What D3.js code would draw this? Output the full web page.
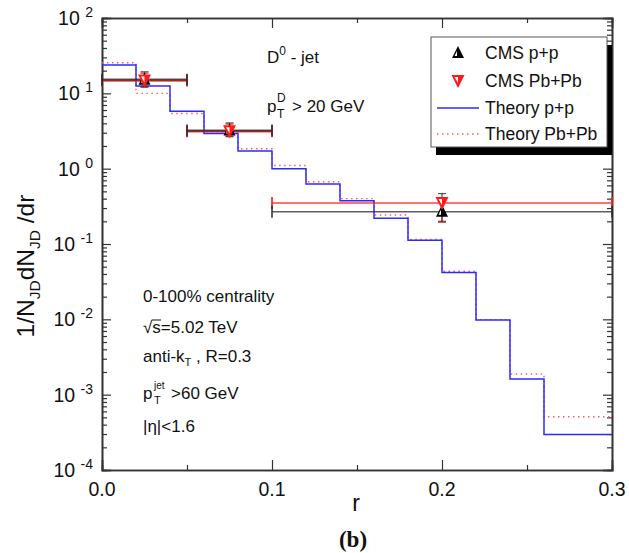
<!DOCTYPE html>
<html><head><meta charset="utf-8">
<script src="https://cdn.jsdelivr.net/npm/d3@7"></script>
<style>
body{margin:0;background:#fff}
text{font-family:"Liberation Sans",Arial,sans-serif;fill:#111}
</style>
</head><body>
<svg id="c" width="629" height="553"></svg>
<script>
// ---- data ----
const binEdges   = [0,0.02,0.04,0.06,0.08,0.10,0.12,0.14,0.16,0.18,0.20,0.22,0.24,0.26,0.30];
const theoryPP   = [23.8,12.5,5.8,2.94,1.71,1.0,0.625,0.376,0.219,0.112,0.0417,0.0098,0.00162,0.000297];
const theoryPbPb = [25.5,10.0,5.4,2.95,1.84,1.1,0.67,0.40,0.243,0.115,0.0434,0.0099,0.00188,0.00051];
const cmsR       = [0.025,0.075,0.2];
const cmsRLow    = [0,0.05,0.1];
const cmsRHigh   = [0.05,0.1,0.3];
const cmsPP      = [15.2,3.2,0.267];
const cmsPPLo    = [12.3,2.7,0.20];
const cmsPPHi    = [19.3,4.05,0.467];
const cmsPbPb    = [14.8,3.15,0.351];
const cmsPbPbLo  = [12.0,2.65,0.194];
const cmsPbPbHi  = [18.5,3.9,0.40];
const xTickVals  = [0,0.1,0.2,0.3];
const xMinorVals = [0.05,0.15,0.25];
const yTickExps  = [-4,-3,-2,-1,0,1,2];

// ---- layout ----
const svg = d3.select("#c");
const L=102,R=612,T=18,B=470;
const x = d3.scaleLinear().domain([0,0.3]).range([L,R]);
const y = d3.scaleLog().domain([1e-4,1e2]).range([B,T]);

const yMajor = yTickExps.map(e=>Math.pow(10,e));
const yMinor = [];
yTickExps.slice(0,-1).forEach(e=>{for(let k=2;k<=9;k++) yMinor.push(k*Math.pow(10,e));});

function styleAxis(g){
  g.selectAll("path.domain").attr("stroke","#333").attr("stroke-width",1.6);
  g.selectAll(".tick line").attr("stroke","#333").attr("stroke-width",1.2);
  g.selectAll(".tick text").remove();
}
// bottom
svg.append("g").attr("transform",`translate(0,${B})`)
  .call(d3.axisBottom(x).tickValues(xTickVals).tickSize(-10).tickFormat("")).call(styleAxis);
svg.append("g").attr("transform",`translate(0,${B})`)
  .call(d3.axisBottom(x).tickValues(xMinorVals).tickSize(-5).tickFormat("")).call(styleAxis);
// top
svg.append("g").attr("transform",`translate(0,${T})`)
  .call(d3.axisTop(x).tickValues(xTickVals).tickSize(-10).tickFormat("")).call(styleAxis);
svg.append("g").attr("transform",`translate(0,${T})`)
  .call(d3.axisTop(x).tickValues(xMinorVals).tickSize(-5).tickFormat("")).call(styleAxis);
// left
svg.append("g").attr("transform",`translate(${L},0)`)
  .call(d3.axisLeft(y).tickValues(yMajor).tickSize(-9).tickFormat("")).call(styleAxis);
svg.append("g").attr("transform",`translate(${L},0)`)
  .call(d3.axisLeft(y).tickValues(yMinor).tickSize(-5).tickFormat("")).call(styleAxis);
// right
svg.append("g").attr("transform",`translate(${R},0)`)
  .call(d3.axisRight(y).tickValues(yMajor).tickSize(-9).tickFormat("")).call(styleAxis);
svg.append("g").attr("transform",`translate(${R},0)`)
  .call(d3.axisRight(y).tickValues(yMinor).tickSize(-5).tickFormat("")).call(styleAxis);

// tick labels
xTickVals.forEach(v=>{
  svg.append("text").attr("x",x(v)).attr("y",496).attr("text-anchor","middle")
    .attr("font-size",19.5).text(d3.format(".1f")(v));
});
yTickExps.forEach(e=>{
  const t = svg.append("text").attr("x",93).attr("y",y(Math.pow(10,e))+7).attr("text-anchor","end").attr("font-size",19.5);
  t.append("tspan").text("10 ");
  t.append("tspan").attr("dy",-8).attr("font-size",14).text(String(e));
});
// axis titles
svg.append("text").attr("x",356).attr("y",511).attr("text-anchor","middle").attr("font-size",23).text("r");
svg.append("text").attr("x",353).attr("y",547).attr("text-anchor","middle").attr("font-size",23)
  .attr("font-weight","bold").style("font-family","'Liberation Serif','Times New Roman',serif").text("(b)");
const yl = svg.append("text").attr("transform","translate(34,266) rotate(-90)").attr("text-anchor","middle").attr("font-size",24.5);
yl.append("tspan").text("1/N");
yl.append("tspan").attr("dy",6).attr("font-size",15.5).text("JD");
yl.append("tspan").attr("dy",-6).text("dN");
yl.append("tspan").attr("dy",6).attr("font-size",15.5).text("JD");
yl.append("tspan").attr("dy",-6).text(" /dr");

// ---- theory step lines ----
const stepLine = d3.line().x(d=>x(d.r)).y(d=>y(d.v)).curve(d3.curveStepAfter);
function stepData(vals){ return binEdges.map((r,i)=>({r, v: vals[Math.min(i, vals.length-1)]})); }
svg.append("path").datum(stepData(theoryPbPb)).attr("d",stepLine)
  .attr("fill","none").attr("stroke","#ff5a5a").attr("stroke-width",1.4).attr("stroke-dasharray","1.5,3.5");
svg.append("path").datum(stepData(theoryPP)).attr("d",stepLine)
  .attr("fill","none").attr("stroke","#2b2bff").attr("stroke-width",1.5);

// ---- CMS data ----
function errBars(vals, lo, hi, col, w){
  const g = svg.append("g").attr("stroke",col).attr("fill","none");
  vals.forEach((v,i)=>{
    const yy=y(v);
    g.append("line").attr("x1",x(cmsRLow[i])).attr("x2",x(cmsRHigh[i])).attr("y1",yy).attr("y2",yy).attr("stroke-width",w[i]);
    [cmsRLow[i],cmsRHigh[i]].forEach(r=>g.append("line").attr("x1",x(r)).attr("x2",x(r)).attr("y1",yy-6).attr("y2",yy+6).attr("stroke-width",2));
    const xc=x(cmsR[i]);
    g.append("line").attr("x1",xc).attr("x2",xc).attr("y1",y(lo[i])).attr("y2",y(hi[i])).attr("stroke-width",1.3);
    [lo[i],hi[i]].forEach(q=>g.append("line").attr("x1",xc-4).attr("x2",xc+4).attr("y1",y(q)).attr("y2",y(q)).attr("stroke-width",1.3));
  });
}
errBars(cmsPbPb, cmsPbPbLo, cmsPbPbHi, "rgba(255,30,30,0.85)", [2.5,2.5,1.5]);
errBars(cmsPP, cmsPPLo, cmsPPHi, "rgba(40,40,40,0.75)", [2.2,2.2,1.5]);

function upTri(g,cx,cy){
  g.append("path").attr("d",`M${cx},${cy-7}L${cx+6},${cy+5}L${cx-6},${cy+5}Z`).attr("fill","#000");
  g.append("path").attr("d",`M${cx-1},${cy-2}L${cx-1},${cy+3}L${cx-3.5},${cy+3}Z`).attr("fill","#fff");
}
function downTri(g,cx,cy){
  g.append("path").attr("d",`M${cx-6.5},${cy-6}L${cx+6.5},${cy-6}L${cx},${cy+7}Z`).attr("fill","#ff1a1a");
  g.append("path").attr("d",`M${cx-3.5},${cy-4}L${cx},${cy-4}L${cx},${cy+2}Z`).attr("fill","#fff");
}
const mk = svg.append("g");
cmsPP.forEach((v,i)=>upTri(mk,x(cmsR[i]),y(v)));
cmsPbPb.forEach((v,i)=>downTri(mk,x(cmsR[i]),y(v)));

// ---- annotations ----
const a1 = svg.append("text").attr("x",267).attr("y",63).attr("font-size",17);
a1.append("tspan").text("D");
a1.append("tspan").attr("dy",-8).attr("font-size",12).text("0");
a1.append("tspan").attr("dy",8).text(" - jet");
svg.append("text").attr("x",267).attr("y",112).attr("font-size",17).text("p");
svg.append("text").attr("x",277).attr("y",102).attr("font-size",12).text("D");
svg.append("text").attr("x",277).attr("y",118).attr("font-size",12).text("T");
svg.append("text").attr("x",292).attr("y",112).attr("font-size",17).text("> 20 GeV");

svg.append("text").attr("x",143).attr("y",302).attr("font-size",17).text("0-100% centrality");
svg.append("text").attr("x",143).attr("y",333).attr("font-size",17).text("\u221As=5.02 TeV");
svg.append("line").attr("x1",152).attr("x2",161).attr("y1",320).attr("y2",320).attr("stroke","#111").attr("stroke-width",1);
const a4 = svg.append("text").attr("x",143).attr("y",362).attr("font-size",17);
a4.append("tspan").text("anti-k");
a4.append("tspan").attr("dy",4).attr("font-size",11).text("T");
a4.append("tspan").attr("dy",-4).text(" , R=0.3");
svg.append("text").attr("x",143).attr("y",399).attr("font-size",17).text("p");
svg.append("text").attr("x",154).attr("y",389).attr("font-size",10).text("jet");
svg.append("text").attr("x",154).attr("y",404).attr("font-size",11).text("T");
svg.append("text").attr("x",171).attr("y",399).attr("font-size",17).text(">60 GeV");
svg.append("text").attr("x",143).attr("y",432).attr("font-size",17).text("|\u03B7|<1.6");

// ---- legend ----
const lg = svg.append("g");
lg.append("rect").attr("x",436).attr("y",45).attr("width",176).attr("height",110).attr("fill","#000");
lg.append("rect").attr("x",431).attr("y",37).attr("width",176).attr("height",110).attr("fill","#fff").attr("stroke","#555").attr("stroke-width",1);
const legendLabels = ["CMS p+p","CMS Pb+Pb","Theory p+p","Theory Pb+Pb"];
const legendY = [53,81,108,134];
upTri(lg,458,legendY[0]);
downTri(lg,458,legendY[1]);
lg.append("line").attr("x1",437).attr("x2",479).attr("y1",legendY[2]).attr("y2",legendY[2]).attr("stroke","#2b2bff").attr("stroke-width",1.5);
lg.append("line").attr("x1",437).attr("x2",479).attr("y1",legendY[3]).attr("y2",legendY[3]).attr("stroke","#ff5a5a").attr("stroke-width",1.4).attr("stroke-dasharray","1.5,3.5");
legendLabels.forEach((t,i)=>lg.append("text").attr("x",485).attr("y",legendY[i]+6).attr("font-size",17.5).text(t));
</script>
</body></html>
